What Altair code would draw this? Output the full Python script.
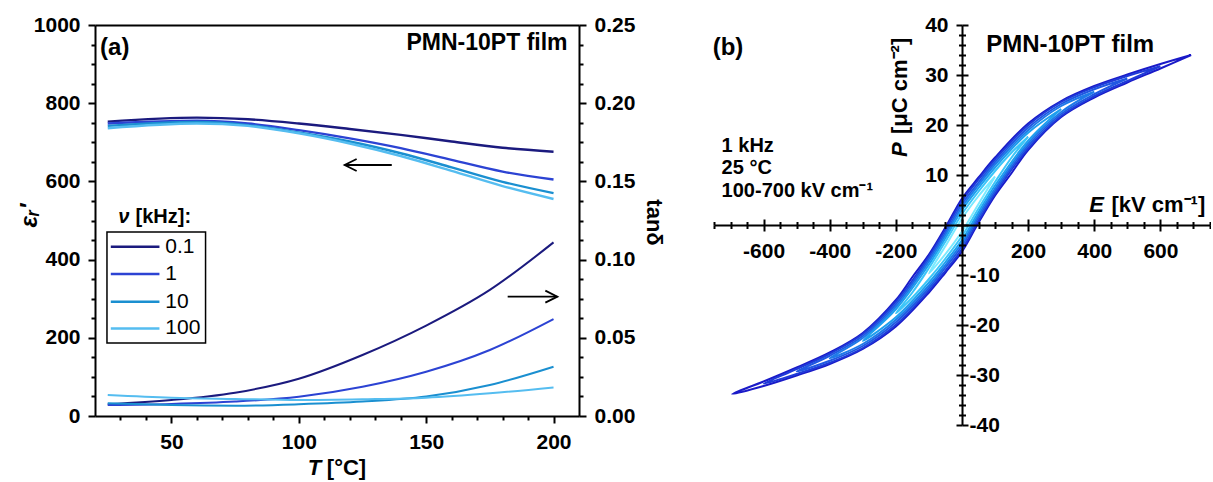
import altair as alt
import pandas as pd

FONT = "Liberation Sans"

# ---------------- Panel (a) data ----------------
freq_labels = ["0.1", "1", "10", "100"]
freq_colors = ["#1b1a7e", "#2c43d3", "#1a8fd0", "#55bdf0"]

T_eps = [25, 60, 80, 100, 120, 140, 160, 180, 200]
eps_01 = [753, 763, 759, 748, 734, 719, 702, 686, 676]
eps_1 = [748, 755, 748, 731, 710, 685, 655, 625, 605]
eps_10 = [742, 752, 744, 725, 702, 672, 636, 599, 570]
eps_100 = [736, 748, 742, 723, 697, 665, 627, 588, 555]

T_tan = [25, 50, 75, 100, 125, 150, 175, 200]
tan_01 = [0.0075, 0.0102, 0.0149, 0.0238, 0.0390, 0.0578, 0.0806, 0.1110]
tan_1 = [0.0070, 0.0077, 0.0092, 0.0123, 0.0187, 0.0283, 0.0422, 0.0620]
tan_10 = [0.0081, 0.0070, 0.0066, 0.0075, 0.0092, 0.0124, 0.0198, 0.0315]
tan_100 = [0.0134, 0.0117, 0.0109, 0.0102, 0.0107, 0.0117, 0.0145, 0.0183]

eps_ticks_major = [0, 200, 400, 600, 800, 1000]
eps_ticks_minor = [50, 100, 150, 250, 300, 350, 450, 500, 550, 650, 700, 750, 850, 900, 950]
T_ticks_major = [50, 100, 150, 200]
T_ticks_minor = [30, 40, 60, 70, 80, 90, 110, 120, 130, 140, 160, 170, 180, 190]
EPS_PER_TAN = 4000  # right axis: 0.25 at the top of the 0-1000 left axis

# ---------------- Panel (b) data ----------------
loop_names = ["700", "600", "500", "400", "300", "200", "100"]
loop_colors = ["#1a1ac8", "#1f3ad8", "#2058e2", "#1f7ae8", "#1e9fee", "#3cc6f8", "#7aeaff"]

loop700_E = [693, 600, 500, 400, 300, 200, 100, 50, 0, -46, -100, -150, -200, -300, -400, -500, -600, -695,
             -600, -500, -400, -300, -200, -100, -50, 0, 46, 100, 150, 200, 300, 400, 500, 600, 693]
loop700_P = [34.0, 32.2, 30.1, 27.8, 24.8, 20.3, 13.5, 9.5, 5.3, 0.0, -5.9, -10.4, -15.0, -21.6, -25.5, -28.5, -31.3, -33.8,
             -32.2, -30.1, -27.8, -24.8, -20.3, -13.5, -9.5, -5.3, 0.0, 5.9, 10.4, 15.0, 21.6, 25.5, 28.5, 31.3, 34.0]

loop600_E = [600, 500, 400, 300, 200, 100, 50, 0, -50, -100, -200, -300, -400, -500, -600,
             -500, -400, -300, -200, -100, -50, 0, 50, 100, 200, 300, 400, 500, 600]
loop600_P = [31.75, 29.8, 27.55, 24.6, 19.95, 13.1, 9.1, 4.8, -0.9, -6.3, -15.35, -21.8, -25.75, -28.8, -31.75,
             -29.8, -27.55, -24.6, -19.95, -13.1, -9.1, -4.8, 0.9, 6.3, 15.35, 21.8, 25.75, 28.8, 31.75]

loop500_E = [500, 400, 300, 200, 100, 50, 0, -50, -100, -200, -300, -400, -500,
             -400, -300, -200, -100, -50, 0, 50, 100, 200, 300, 400, 500]
loop500_P = [29.3, 27.15, 24.2, 19.45, 12.6, 8.5, 4.2, -1.5, -6.8, -15.85, -22.2, -26.15, -29.3,
             -27.15, -24.2, -19.45, -12.6, -8.5, -4.2, 1.5, 6.8, 15.85, 22.2, 26.15, 29.3]

loop400_E = [400, 300, 200, 100, 50, 0, -50, -100, -200, -300, -400,
             -300, -200, -100, -50, 0, 50, 100, 200, 300, 400]
loop400_P = [26.65, 23.8, 18.95, 12.1, 8.0, 3.6, -2.0, -7.3, -16.35, -22.6, -26.65,
             -23.8, -18.95, -12.1, -8.0, -3.6, 2.0, 7.3, 16.35, 22.6, 26.65]

loop300_E = [300, 200, 100, 50, 0, -50, -100, -200, -300,
             -200, -100, -50, 0, 50, 100, 200, 300]
loop300_P = [23.2, 18.45, 11.5, 7.4, 3.0, -2.6, -7.9, -16.85, -23.2,
             -18.45, -11.5, -7.4, -3.0, 2.6, 7.9, 16.85, 23.2]

loop200_E = [200, 150, 100, 50, 0, -50, -100, -150, -200,
             -150, -100, -50, 0, 50, 100, 150, 200]
loop200_P = [17.65, 14.5, 10.8, 6.7, 2.2, -3.3, -8.6, -13.5, -17.65,
             -14.5, -10.8, -6.7, -2.2, 3.3, 8.6, 13.5, 17.65]

loop100_E = [100, 50, 0, -50, -100, -50, 0, 50, 100]
loop100_P = [9.7, 5.8, 1.3, -4.2, -9.7, -5.8, -1.3, 4.2, 9.7]

E_ticks_major = [-600, -400, -200, 0, 200, 400, 600]
E_ticks_minor = [-750, -700, -650, -550, -500, -450, -350, -300, -250, -150, -100, -50,
                 50, 100, 150, 250, 300, 350, 450, 500, 550, 650, 700, 750]
P_ticks_major = [-40, -30, -20, -10, 0, 10, 20, 30, 40]
P_ticks_minor = [-38, -36, -34, -32, -28, -26, -24, -22, -18, -16, -14, -12, -8, -6, -4, -2,
                 2, 4, 6, 8, 12, 14, 16, 18, 22, 24, 26, 28, 32, 34, 36, 38]

# ---------------- tables ----------------
eps_df = pd.DataFrame(
    [{"T": t, "eps": v, "freq": f}
     for f, arr in zip(freq_labels, [eps_01, eps_1, eps_10, eps_100])
     for t, v in zip(T_eps, arr)])
tan_df = pd.DataFrame(
    [{"T": t, "tan": v, "freq": f}
     for f, arr in zip(freq_labels, [tan_01, tan_1, tan_10, tan_100])
     for t, v in zip(T_tan, arr)])

rows = []
loop_E = [loop700_E, loop600_E, loop500_E, loop400_E, loop300_E, loop200_E, loop100_E]
loop_P = [loop700_P, loop600_P, loop500_P, loop400_P, loop300_P, loop200_P, loop100_P]
for name, Es, Ps in zip(loop_names, loop_E, loop_P):
    for i, (e, p) in enumerate(zip(Es, Ps)):
        rows.append({"E": e, "P": p, "amp": name, "idx": i})
loops_df = pd.DataFrame(rows)

# annotations (data coordinates)
arrow_left = pd.DataFrame({"t1": [118], "t2": [136.5], "v": [642]})
arrow_right = pd.DataFrame({"t1": [182], "t2": [201.5], "tan": [0.0763]})
text_a_bold = pd.DataFrame({"T": [22, 35.9, 111.0], "v": [941, 509, -133],
                            "txt": ["(a)", "[kHz]:", "[°C]"], "fs": [24, 20, 22]})
text_a_ital = pd.DataFrame({"T": [29.1, 103.5], "v": [509, -133], "txt": ["ν", "T"], "fs": [20, 22]})
text_a_right = pd.DataFrame({"T": [205.5], "v": [953], "txt": ["PMN-10PT film"], "fs": [23]})
legend_box = pd.DataFrame({"t1": [24.7], "t2": [63.4], "v1": [186.7], "v2": [470.6]})
legend_rows = pd.DataFrame({"freq": freq_labels, "v": [432.7, 362.9, 292.1, 224.0],
                            "t1": [26.2] * 4, "t2": [45.3] * 4, "tl": [47.6] * 4})
text_b_bold = pd.DataFrame({
    "E": [-754, 73, -727, -727, -727, 452],
    "P": [35.5, 36, 15.9, 11.5, 6.9, 4],
    "txt": ["(b)", "PMN-10PT film", "1 kHz", "25 °C", "100-700 kV cm⁻¹", "[kV cm⁻¹]"],
    "fs": [24, 24, 20, 20, 20, 22]})
text_b_ital = pd.DataFrame({"E": [385], "P": [4], "txt": ["E"]})
text_b_rot_bold = pd.DataFrame({"E": [-186], "P": [18.2], "txt": ["[μC cm⁻²]"]})
text_b_rot_ital = pd.DataFrame({"E": [-186], "P": [13.6], "txt": ["P"]})
dummy = pd.DataFrame({"E": [0], "P": [0]})


def ax(**kw):
    d = dict(grid=False, domainColor="black", domainWidth=2, tickColor="black", tickWidth=2,
             labelFont=FONT, labelFontWeight="bold", labelFontSize=21, labelColor="black",
             labelFlush=False, labelOverlap=False, titleFont=FONT, titleFontWeight="bold",
             titleFontSize=22, titleColor="black", zindex=1)
    d.update(kw)
    return alt.Axis(**d)


# ---------------- Panel (a) ----------------
WA, HA = 484, 391
xa = alt.Scale(domain=[20, 210], nice=False, zero=False)
ya = alt.Scale(domain=[0, 1000], nice=False, zero=False)
col_a = alt.Color("freq:N", scale=alt.Scale(domain=freq_labels, range=freq_colors), legend=None)
tan_label = f"format(datum.value / {EPS_PER_TAN}, '.2f')"

a1 = alt.Chart(eps_df).mark_line(strokeWidth=2.4, interpolate="monotone").encode(
    x=alt.X("T:Q", scale=xa, axis=ax(orient="bottom", values=T_ticks_major, tickSize=7, labelPadding=8,
                                     title=None)),
    y=alt.Y("eps:Q", scale=ya, axis=ax(orient="left", values=eps_ticks_major, format="d", tickSize=7,
                                       labelPadding=8, title="εᵣ′", titleX=-66, titleY=190,
                                       titleBaseline="middle", titleAlign="center",
                                       titleFontStyle="italic", titleFontSize=24)),
    color=col_a)

a2 = alt.Chart(tan_df).transform_calculate(v=f"datum.tan * {EPS_PER_TAN}").mark_line(
    strokeWidth=2, interpolate="monotone").encode(
    x=alt.X("T:Q", scale=xa, axis=ax(orient="bottom", values=T_ticks_minor, tickSize=4, labels=False,
                                     domain=False, title=None)),
    y=alt.Y("v:Q", scale=ya, axis=ax(orient="right", values=eps_ticks_major, labelExpr=tan_label, tickSize=7,
                                     labelPadding=8, title="tanδ", titleX=74, titleY=197,
                                     titleAngle=90, titleBaseline="middle", titleAlign="center")),
    color=col_a)

a3 = alt.Chart(arrow_left).mark_rule(strokeWidth=1.8, color="black").encode(
    x=alt.X("t1:Q", scale=xa, axis=ax(orient="top", ticks=False, labels=False, title=None)),
    x2="t2:Q",
    y=alt.Y("v:Q", scale=ya, axis=ax(orient="left", values=eps_ticks_minor, tickSize=4, labels=False,
                                     domain=False, title=None)))

a4 = alt.Chart(arrow_right).transform_calculate(v=f"datum.tan * {EPS_PER_TAN}").mark_rule(
    strokeWidth=1.8, color="black").encode(
    x=alt.X("t1:Q", scale=xa, axis=None),
    x2="t2:Q",
    y=alt.Y("v:Q", scale=ya, axis=ax(orient="right", values=eps_ticks_minor, tickSize=4, labels=False,
                                     domain=False, title=None)))

a5 = alt.Chart(arrow_left).mark_point(shape="M 2 -1 L 0 0 L 2 1", size=144, filled=False,
                                      strokeWidth=1.8, color="black", opacity=1).encode(
    x=alt.X("t1:Q", scale=xa, axis=None),
    y=alt.Y("v:Q", scale=ya, axis=None))

a6 = alt.Chart(arrow_right).transform_calculate(v=f"datum.tan * {EPS_PER_TAN}").mark_point(
    shape="M -2 -1 L 0 0 L -2 1", size=144, filled=False, strokeWidth=1.8, color="black", opacity=1).encode(
    x=alt.X("t2:Q", scale=xa, axis=None),
    y=alt.Y("v:Q", scale=ya, axis=None))

a7 = alt.Chart(text_a_bold).mark_text(font=FONT, fontWeight="bold", align="left", baseline="middle",
                                      color="black").encode(
    x=alt.X("T:Q", scale=xa, axis=None),
    y=alt.Y("v:Q", scale=ya, axis=None),
    text="txt:N",
    size=alt.Size("fs:Q", scale=None))

a7i = alt.Chart(text_a_ital).mark_text(font=FONT, fontWeight="bold", fontStyle="italic", align="left",
                                       baseline="middle", color="black").encode(
    x=alt.X("T:Q", scale=xa, axis=None),
    y=alt.Y("v:Q", scale=ya, axis=None),
    text="txt:N",
    size=alt.Size("fs:Q", scale=None))

a8 = alt.Chart(text_a_right).mark_text(font=FONT, fontWeight="bold", align="right", baseline="middle",
                                       color="black").encode(
    x=alt.X("T:Q", scale=xa, axis=None),
    y=alt.Y("v:Q", scale=ya, axis=None),
    text="txt:N",
    size=alt.Size("fs:Q", scale=None))

a9 = alt.Chart(legend_box).mark_rect(fill="white", fillOpacity=0, stroke="black", strokeWidth=1.5).encode(
    x=alt.X("t1:Q", scale=xa, axis=None), x2="t2:Q",
    y=alt.Y("v1:Q", scale=ya, axis=None), y2="v2:Q")

a10 = alt.Chart(legend_rows).mark_rule(strokeWidth=2.5).encode(
    x=alt.X("t1:Q", scale=xa, axis=None), x2="t2:Q",
    y=alt.Y("v:Q", scale=ya, axis=None),
    color=col_a)

a11 = alt.Chart(legend_rows).mark_text(font=FONT, fontSize=21, align="left", baseline="middle",
                                       color="black").encode(
    x=alt.X("tl:Q", scale=xa, axis=None),
    y=alt.Y("v:Q", scale=ya, axis=None),
    text="freq:N")

panel_a = alt.layer(a1, a2, a3, a4, a5, a6, a7, a7i, a8, a9, a10, a11).resolve_axis(
    x="independent", y="independent").resolve_scale(size="independent").properties(width=WA, height=HA)

# ---------------- Panel (b) ----------------
WB, HB = 496, 400
xb = alt.Scale(domain=[-750, 750], nice=False, zero=False)
yb = alt.Scale(domain=[-40, 40], nice=False, zero=False)
lbl_x = "datum.value == 0 ? '' : toString(datum.value)"
lbl_pos = "datum.value > 0 ? toString(datum.value) : ''"
lbl_neg = "datum.value < 0 ? toString(datum.value) : ''"

b1 = alt.Chart(loops_df).mark_line(strokeWidth=2, interpolate="catmull-rom").encode(
    x=alt.X("E:Q", scale=xb, axis=ax(orient="bottom", offset=-HB / 2, values=E_ticks_major, labelExpr=lbl_x,
                                     tickSize=6, labelPadding=9, title=None)),
    y=alt.Y("P:Q", scale=yb, axis=ax(orient="left", offset=-WB / 2, values=P_ticks_major, labelExpr=lbl_pos,
                                     tickSize=6, labelPadding=8, title=None)),
    color=alt.Color("amp:N", scale=alt.Scale(domain=loop_names, range=loop_colors), legend=None),
    order="idx:Q")

b2 = alt.Chart(dummy).mark_point(opacity=0).encode(
    x=alt.X("E:Q", scale=xb, axis=ax(orient="top", offset=-HB / 2, values=E_ticks_major, labels=False,
                                     tickSize=6, domain=False, title=None)),
    y=alt.Y("P:Q", scale=yb, axis=ax(orient="right", offset=-WB / 2, values=P_ticks_major, labelExpr=lbl_neg,
                                     tickSize=6, labelPadding=1, domain=False, title=None)))

b3 = alt.Chart(dummy).mark_point(opacity=0).encode(
    x=alt.X("E:Q", scale=xb, axis=ax(orient="bottom", offset=-HB / 2, values=E_ticks_minor, labels=False,
                                     tickSize=3.5, domain=False, title=None)),
    y=alt.Y("P:Q", scale=yb, axis=ax(orient="left", offset=-WB / 2, values=P_ticks_minor, labels=False,
                                     tickSize=3.5, domain=False, title=None)))

b4 = alt.Chart(dummy).mark_point(opacity=0).encode(
    x=alt.X("E:Q", scale=xb, axis=ax(orient="top", offset=-HB / 2, values=E_ticks_minor, labels=False,
                                     tickSize=3.5, domain=False, title=None)),
    y=alt.Y("P:Q", scale=yb, axis=ax(orient="right", offset=-WB / 2, values=P_ticks_minor, labels=False,
                                     tickSize=3.5, domain=False, title=None)))

b5 = alt.Chart(text_b_bold).mark_text(font=FONT, fontWeight="bold", align="left", baseline="middle",
                                      color="black").encode(
    x=alt.X("E:Q", scale=xb, axis=None),
    y=alt.Y("P:Q", scale=yb, axis=None),
    text="txt:N",
    size=alt.Size("fs:Q", scale=None))

b6 = alt.Chart(text_b_ital).mark_text(font=FONT, fontWeight="bold", fontStyle="italic", align="left",
                                      baseline="middle", fontSize=22, color="black").encode(
    x=alt.X("E:Q", scale=xb, axis=None),
    y=alt.Y("P:Q", scale=yb, axis=None),
    text="txt:N")

b7 = alt.Chart(text_b_rot_bold).mark_text(font=FONT, fontWeight="bold", align="left", baseline="middle",
                                          fontSize=22, angle=270, color="black").encode(
    x=alt.X("E:Q", scale=xb, axis=None),
    y=alt.Y("P:Q", scale=yb, axis=None),
    text="txt:N")

b8 = alt.Chart(text_b_rot_ital).mark_text(font=FONT, fontWeight="bold", fontStyle="italic", align="left",
                                          baseline="middle", fontSize=22, angle=270, color="black").encode(
    x=alt.X("E:Q", scale=xb, axis=None),
    y=alt.Y("P:Q", scale=yb, axis=None),
    text="txt:N")

panel_b = alt.layer(b1, b2, b3, b4, b5, b6, b7, b8).resolve_axis(
    x="independent", y="independent").resolve_scale(size="independent").properties(width=WB, height=HB)

chart = alt.hconcat(panel_a, panel_b, spacing=135, bounds="flush").resolve_scale(
    color="independent").properties(
    padding={"left": 17, "top": 14, "right": 0, "bottom": 0}, background="white"
).configure_view(stroke=None)

chart.save("out.html", embed_options={"renderer": "svg", "actions": False})
